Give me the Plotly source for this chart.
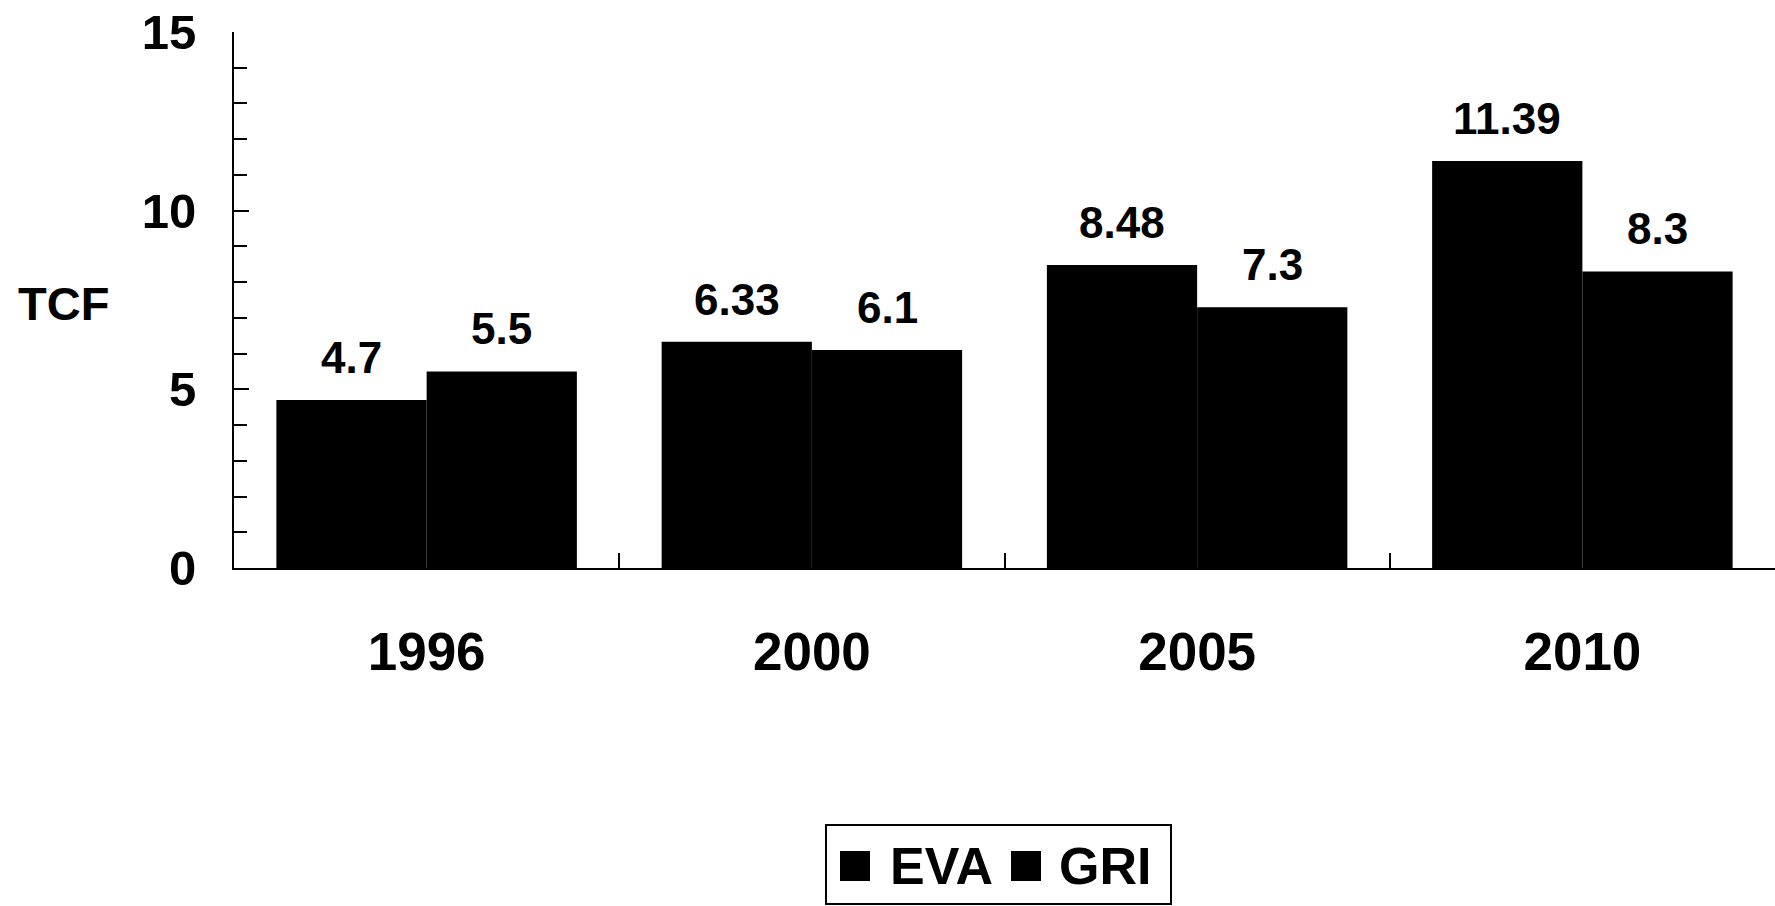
import plotly.graph_objects as go

years = ["1996", "2000", "2005", "2010"]
eva = [4.7, 6.33, 8.48, 11.39]
gri = [5.5, 6.1, 7.3, 8.3]
eva_labels = ["4.7", "6.33", "8.48", "11.39"]
gri_labels = ["5.5", "6.1", "7.3", "8.3"]
series_names = ["EVA", "GRI"]
y_major = [0, 5, 10, 15]

W, H = 1775, 906
ML, MR, MT, MB = 234, 0, 32, 338
BARGAP = 0.22
half = (1 - BARGAP) / 4  # offset of each bar centre from the category centre

BOLD = "Liberation Sans, Arial, sans-serif"


def px_x(p):
    return (p - ML) / (W - ML - MR)


def px_y(p):
    return (H - MB - p) / (H - MB - MT)


fig = go.Figure()
fig.add_trace(go.Bar(x=years, y=eva, name=series_names[0], marker=dict(color="#000000", line_width=0),
                     showlegend=False))
fig.add_trace(go.Bar(x=years, y=gri, name=series_names[1], marker=dict(color="#000000", line_width=0),
                     showlegend=False))

# value labels above each bar
annotations = []
for i in range(len(years)):
    for vals, labs, sgn in ((eva, eva_labels, -1), (gri, gri_labels, 1)):
        annotations.append(dict(
            x=i + sgn * half, y=vals[i], xref="x", yref="y",
            text=labs[i], showarrow=False, yanchor="bottom", yshift=16,
            font=dict(family=BOLD, size=44, color="#000", weight="bold"),
        ))

# horizontal axis title
annotations.append(dict(
    x=px_x(16), y=px_y(303), xref="paper", yref="paper", text="TCF", showarrow=False,
    xanchor="left", yanchor="middle",
    font=dict(family=BOLD, size=47, color="#000", weight="bold"),
))

# legend box with two black swatches
shapes = [
    dict(type="rect", xref="paper", yref="paper",
         x0=px_x(826), x1=px_x(1171), y0=px_y(904), y1=px_y(825),
         line=dict(color="#000", width=2), fillcolor="rgba(0,0,0,0)"),
]
legend_items = [(series_names[0], 840, 888), (series_names[1], 1011, 1057)]
for name, sx, tx in legend_items:
    shapes.append(dict(type="rect", xref="paper", yref="paper",
                       x0=px_x(sx), x1=px_x(sx + 30), y0=px_y(881), y1=px_y(851),
                       line=dict(width=0), fillcolor="#000"))
    annotations.append(dict(
        x=px_x(tx), y=px_y(866), xref="paper", yref="paper", text=name,
        showarrow=False, xanchor="left", yanchor="middle",
        font=dict(family=BOLD, size=52, color="#000", weight="bold"),
    ))

fig.update_layout(
    width=W, height=H,
    margin=dict(l=ML, r=MR, t=MT, b=MB, pad=0),
    paper_bgcolor="white", plot_bgcolor="white",
    barmode="group", bargap=BARGAP, bargroupgap=0,
    annotations=annotations, shapes=shapes,
    showlegend=False,
)
fig.update_xaxes(
    type="category", range=[-0.5, 3.5],
    showline=True, linecolor="#000", linewidth=2,
    ticks="inside", tickson="boundaries", ticklen=15, tickwidth=2, tickcolor="#000",
    tickfont=dict(family=BOLD, size=53, color="#000", weight="bold"),
    ticklabelstandoff=36, showgrid=False, zeroline=False,
)
fig.update_yaxes(
    range=[0, 15], tickvals=y_major, ticktext=[str(v) for v in y_major],
    showline=True, linecolor="#000", linewidth=2,
    ticks="inside", ticklen=15, tickwidth=2, tickcolor="#000",
    minor=dict(dtick=1, ticks="inside", ticklen=13, tickwidth=2, tickcolor="#000", showgrid=False),
    tickfont=dict(family=BOLD, size=49, color="#000", weight="bold"),
    ticklabelstandoff=26, showgrid=False, zeroline=False,
)

fig.write_html("out.html")
